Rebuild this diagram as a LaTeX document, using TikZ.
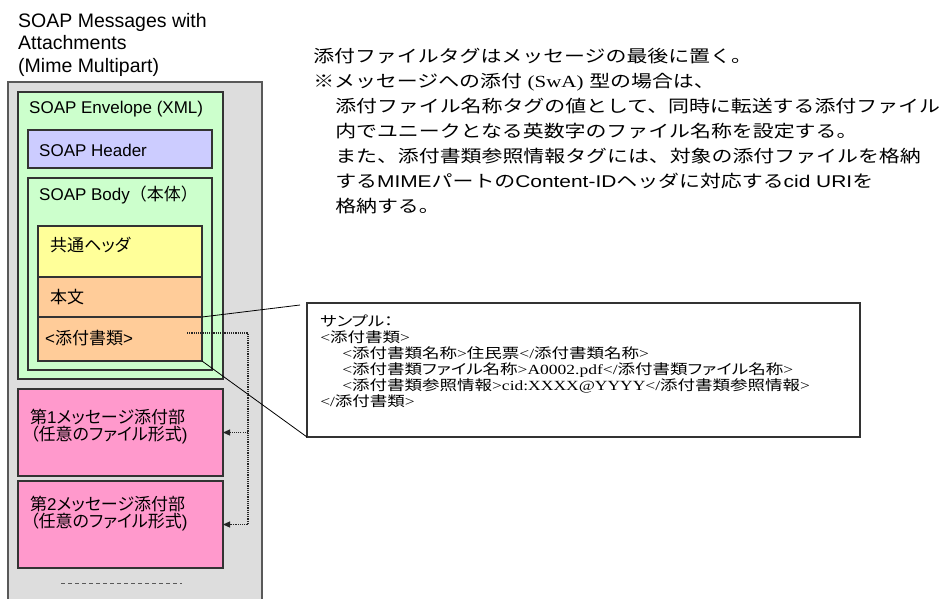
\documentclass[tikz,border=0pt]{standalone}
\usepackage{fontspec}
\usetikzlibrary{arrows.meta}
\setmainfont{Liberation Sans}
\newfontfamily\sansf{Liberation Sans}
\newfontfamily\seriff{Liberation Serif}
\newfontfamily\jpfull{Noto Sans CJK JP}
\newfontfamily\jpprop[RawFeature=+palt]{Noto Sans CJK JP}
\let\jpfont\jpprop
\let\latfont\sansf
\XeTeXinterchartokenstate=1
\newXeTeXintercharclass\cjkcls
\newcount\cjkcc
\def\setcjkrange#1#2{\cjkcc=#1\relax
  \loop\XeTeXcharclass\cjkcc=\cjkcls\relax
  \ifnum\cjkcc<#2\relax\advance\cjkcc by 1\repeat}
\setcjkrange{"3000}{"30FF}
\setcjkrange{"4E00}{"9FFF}
\setcjkrange{"FF00}{"FFEF}
\XeTeXcharclass"203B=\cjkcls
\XeTeXinterchartoks 0 \cjkcls = {\jpfont}
\XeTeXinterchartoks 4095 \cjkcls = {\jpfont}
\XeTeXinterchartoks \cjkcls 0 = {\latfont}
\XeTeXinterchartoks \cjkcls 4095 = {\latfont}
\newcommand\usejpfull{\let\jpfont\jpfull}
\newcommand\useserif{\let\latfont\seriff}
\definecolor{grayfill}{HTML}{DDDDDD}
\definecolor{envg}{HTML}{CCFFCC}
\definecolor{hdrc}{HTML}{CCCCFF}
\definecolor{yel}{HTML}{FFFF99}
\definecolor{ora}{HTML}{FFCC99}
\definecolor{pnk}{HTML}{FF99CC}
\tikzset{
  rbox/.style={draw=black!80, line width=1.1pt, inner sep=0pt, outer sep=0pt, anchor=north west},
  lbl/.style={inner sep=0pt, anchor=west, font=\fontsize{17}{17}\selectfont},
  mlbl/.style={inner sep=0pt, anchor=north west, align=left},
  dotc/.style={draw=black!85, line width=1.2pt, dash pattern=on 1.1pt off 1.1pt, -{Triangle[length=7pt,width=6pt]}},
  callout/.style={draw=black, line width=0.8pt},
  sepline/.style={draw=black!65, line width=0.8pt, dash pattern=on 4pt off 3pt},
}
\begin{document}
\begin{tikzpicture}[x=1pt,y=-1pt]
\useasboundingbox (0,0) rectangle (942,598);
% title
\node[mlbl, font=\fontsize{19.5}{22.5}\selectfont] (title) at (18,12.8) {SOAP Messages with\\Attachments\\(Mime Multipart)};
% boxes
\node[rbox, draw=black!65, fill=grayfill, minimum width=254pt, minimum height=530pt] (outer) at (8,82) {};
\node[rbox, fill=envg, minimum width=205pt, minimum height=287pt] (env) at (18,92) {};
\node[rbox, fill=hdrc, minimum width=184pt, minimum height=38pt] (hdr) at (28,130) {};
\node[rbox, fill=envg, minimum width=184pt, minimum height=192pt] (body) at (28,178) {};
\node[rbox, fill=yel, minimum width=164pt, minimum height=51pt] (com) at (38,226) {};
\node[rbox, fill=ora, minimum width=164pt, minimum height=40pt] (hon) at (38,277) {};
\node[rbox, fill=ora, minimum width=164pt, minimum height=44pt] (att) at (38,317) {};
\node[rbox, fill=pnk, minimum width=205pt, minimum height=87pt] (pink1) at (18,389) {};
\node[rbox, fill=pnk, minimum width=205pt, minimum height=87pt] (pink2) at (18,481) {};
\node[rbox, fill=white, minimum width=553pt, minimum height=134pt] (smpbox) at (307,303) {};
% labels in boxes
\node[lbl] (tenv) at (29,109) {SOAP Envelope (XML)};
\node[lbl, font=\usejpfull\fontsize{17}{17}\selectfont] (tbody) at (39,195) {SOAP Body（本体）};
\node[lbl] (thdr) at (39,150) {SOAP Header};
\node[lbl] (tcom) at (50,245) {共通ヘッダ};
\node[lbl] (thon) at (50,297) {本文};
\node[lbl] (tatt) at (45,338) {<添付書類>};
\node[mlbl, font=\fontsize{17}{17}\selectfont] (tp1) at (30,408.5) {第1メッセージ添付部\\（任意のファイル形式)};
\node[mlbl, font=\fontsize{17}{17}\selectfont] (tp2) at (30,495.5) {第2メッセージ添付部\\（任意のファイル形式)};
% explanation
\begin{scope}[shift={(313,48.3)}, xscale=1.23]
\node[mlbl, transform shape, font=\usejpfull\fontsize{17}{25}\selectfont] (expl) at (0,0) {添付ファイルタグはメッセージの最後に置く。\\
※メッセージへの添付 {\seriff (SwA)} 型の場合は、\\
\hspace*{17.9pt}添付ファイル名称タグの値として、同時に転送する添付ファイル\\
\hspace*{17.9pt}内でユニークとなる英数字のファイル名称を設定する。\\
\hspace*{17.9pt}また、添付書類参照情報タグには、対象の添付ファイルを格納\\
\hspace*{17.9pt}するMIMEパートのContent-IDヘッダに対応するcid URIを\\
\hspace*{17.9pt}格納する。};
\end{scope}
% sample
\begin{scope}[shift={(320,314.5)}, xscale=1.25]
\node[mlbl, transform shape, font=\useserif\seriff\fontsize{14}{16}\selectfont] (smp) at (0,0) {サンプル：\\
<添付書類>\\
\hspace*{17.6pt}<添付書類名称>住民票</添付書類名称>\\
\hspace*{17.6pt}<添付書類ファイル名称>A0002.pdf</添付書類ファイル名称>\\
\hspace*{17.6pt}<添付書類参照情報>cid:XXXX@YYYY</添付書類参照情報>\\
</添付書類>};
\end{scope}
% separator
\coordinate (d1) at (61,583);
\coordinate (d2) at (182,583);
\draw[sepline] (d1) -- (d2);
% dotted connectors
\coordinate (ds) at (187,333);
\coordinate (dx) at (248,333);
\draw[dotc] (ds) -- (dx) -- (dx |- pink2.east) -- (pink2.east);
\draw[dotc] (dx |- pink1.east) -- (pink1.east);
% callouts
\draw[callout] (att.north east) -- ([shift={(-7,2)}]smpbox.north west);
\draw[callout] (att.south east) -- (smpbox.south west);
\end{tikzpicture}
\end{document}
